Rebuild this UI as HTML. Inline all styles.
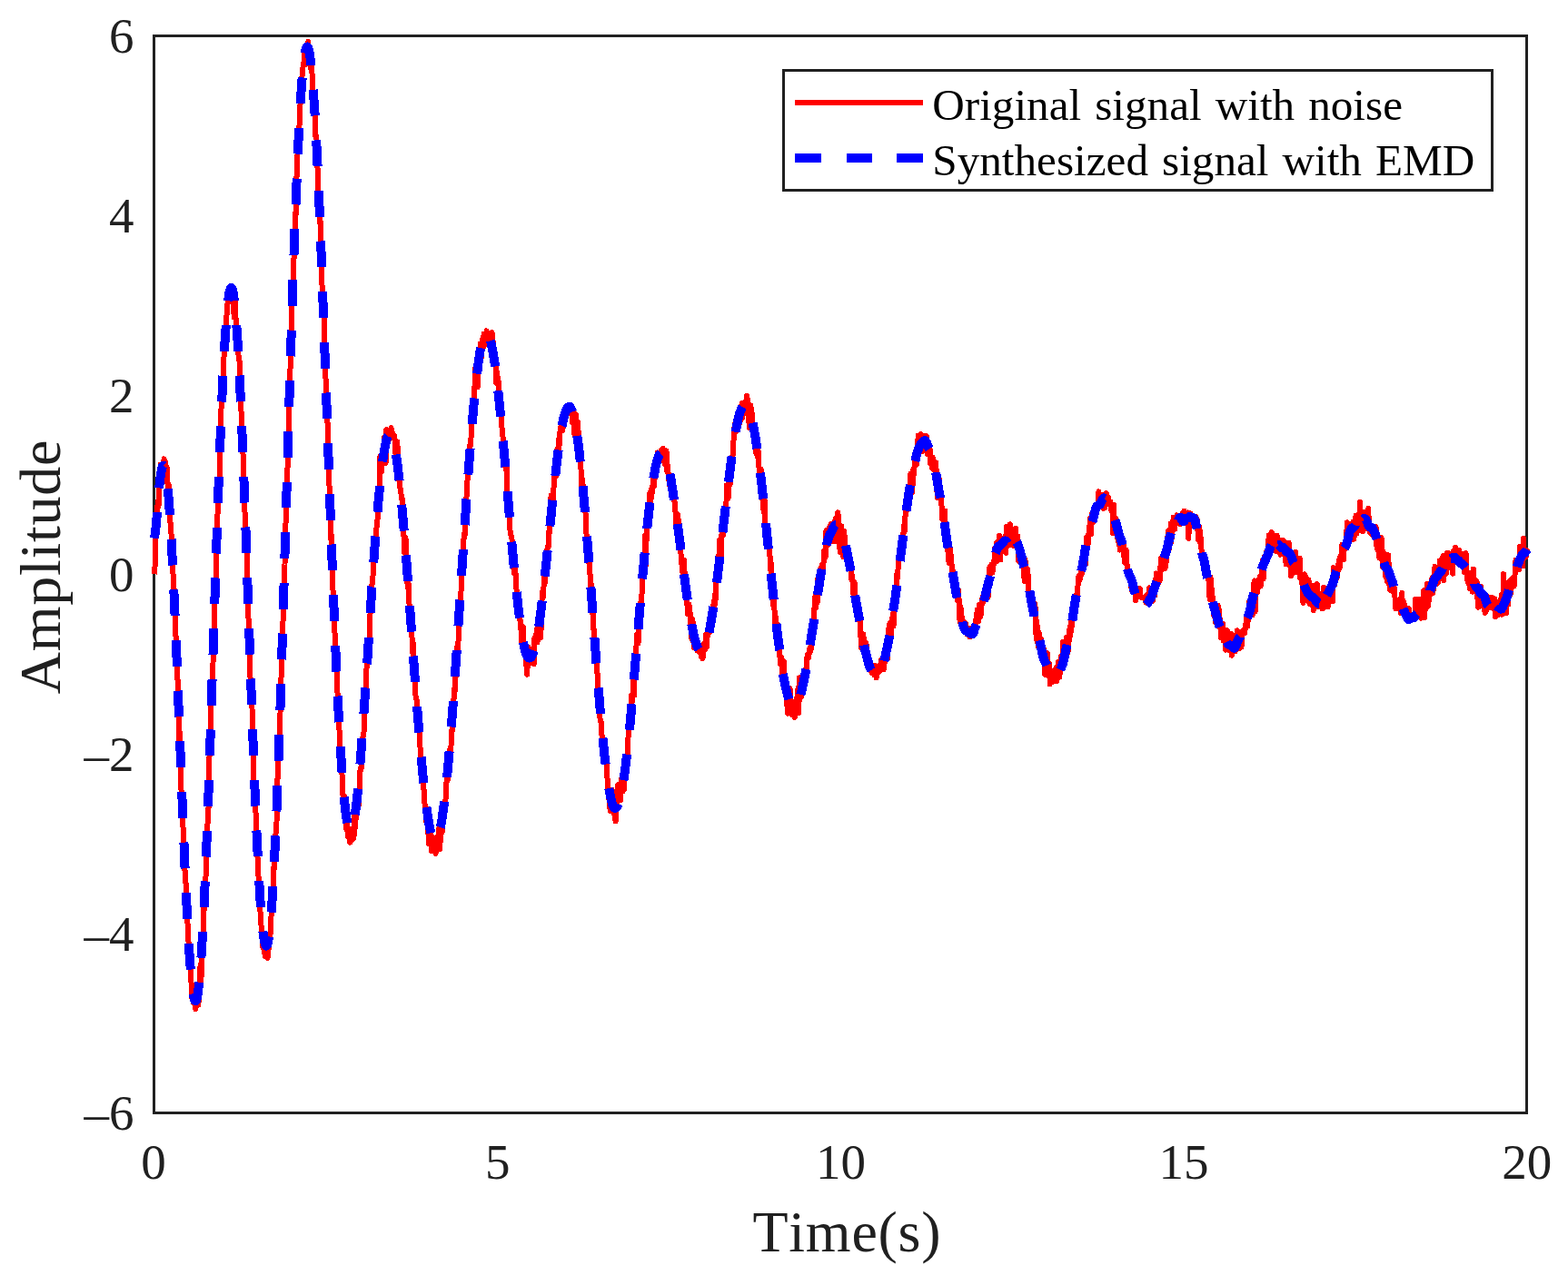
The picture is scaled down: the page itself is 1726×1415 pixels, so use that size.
<!DOCTYPE html>
<html lang="en"><head><meta charset="utf-8"><title>Original signal with noise vs. synthesized signal with EMD</title>
<style>
html,body{margin:0;padding:0;background:#fff;}
body{width:1726px;height:1415px;overflow:hidden;}
svg{display:block;}
text{font-family:"Liberation Serif", "DejaVu Serif", serif;fill:#202020;font-kerning:none;font-variant-ligatures:none;}
.tick{font-size:55px;}
.lab{font-size:64px;letter-spacing:0.75px;}
.leg{font-size:49.2px;fill:#000;word-spacing:2.7px;}
</style></head><body>
<svg width="1726" height="1415" viewBox="0 0 1726 1415">
<rect x="0" y="0" width="1726" height="1415" fill="#fff"/>
<rect x="169.5" y="39.5" width="1511" height="1186" fill="none" stroke="#202020" stroke-width="3" shape-rendering="crispEdges"/>
<path d="M170.0,632.4L170.8,619.2L171.5,580.3L172.3,576.6L173.0,564.2L173.8,551.7L174.5,557.9L175.3,534.0L176.0,532.2L176.8,511.5L177.6,511.9L178.3,513.4L179.1,510.6L179.8,513.1L180.6,505.3L181.3,512.9L182.1,508.5L182.8,519.1L183.6,514.4L184.4,531.5L185.1,537.7L185.9,533.9L186.6,553.2L187.4,574.0L188.1,584.0L188.9,591.5L189.6,594.1L190.4,628.9L191.1,645.2L191.9,651.6L192.7,685.9L193.4,699.2L194.2,708.0L194.9,730.1L195.7,754.1L196.4,769.1L197.2,819.7L197.9,806.5L198.7,844.0L199.5,870.2L200.2,873.2L201.0,889.1L201.7,918.3L202.5,942.6L203.2,951.2L204.0,969.4L204.7,973.6L205.5,995.3L206.3,1015.3L207.0,1021.5L207.8,1046.1L208.5,1064.5L209.3,1062.3L210.0,1072.1L210.8,1087.6L211.5,1099.8L212.3,1097.0L213.1,1104.8L213.8,1100.8L214.6,1104.3L215.3,1111.0L216.1,1107.4L216.8,1106.9L217.6,1095.1L218.3,1106.7L219.1,1097.8L219.9,1075.7L220.6,1062.5L221.4,1080.7L222.1,1054.4L222.9,1034.1L223.6,1027.9L224.4,993.3L225.1,1000.9L225.9,969.9L226.7,963.6L227.4,922.9L228.2,915.0L228.9,897.1L229.7,887.2L230.4,835.4L231.2,820.7L231.9,797.5L232.7,770.7L233.4,753.8L234.2,738.5L235.0,715.9L235.7,692.0L236.5,649.2L237.2,650.2L238.0,619.3L238.7,593.9L239.5,566.6L240.2,541.5L241.0,536.0L241.8,519.4L242.5,484.5L243.3,454.8L244.0,440.6L244.8,428.0L245.5,416.5L246.3,396.1L247.0,386.9L247.8,364.9L248.6,367.5L249.3,349.2L250.1,342.5L250.8,329.3L251.6,325.9L252.3,321.6L253.1,321.6L253.8,321.6L254.6,315.4L255.4,321.3L256.1,326.0L256.9,319.8L257.6,349.3L258.4,325.7L259.1,334.4L259.9,364.1L260.6,371.6L261.4,381.6L262.2,387.0L262.9,395.6L263.7,398.3L264.4,433.7L265.2,442.2L265.9,465.3L266.7,469.9L267.4,498.1L268.2,512.7L269.0,554.5L269.7,567.9L270.5,594.9L271.2,596.7L272.0,626.2L272.7,657.0L273.5,680.8L274.2,695.1L275.0,727.9L275.7,752.3L276.5,762.1L277.3,766.7L278.0,811.6L278.8,835.3L279.5,861.0L280.3,882.2L281.0,885.1L281.8,900.6L282.5,925.4L283.3,939.2L284.1,956.7L284.8,971.1L285.6,999.1L286.3,1002.3L287.1,1008.5L287.8,1026.3L288.6,1032.4L289.3,1042.9L290.1,1044.8L290.9,1039.3L291.6,1053.1L292.4,1053.2L293.1,1045.7L293.9,1046.5L294.6,1054.8L295.4,1048.6L296.1,1033.9L296.9,1039.2L297.7,1026.1L298.4,1010.8L299.2,998.3L299.9,986.9L300.7,981.6L301.4,954.7L302.2,955.7L302.9,937.9L303.7,912.0L304.5,905.0L305.2,861.6L306.0,850.9L306.7,819.3L307.5,816.0L308.2,796.0L309.0,767.4L309.7,738.1L310.5,724.6L311.3,690.8L312.0,668.4L312.8,628.1L313.5,621.5L314.3,580.1L315.0,568.2L315.8,544.3L316.5,515.5L317.3,493.2L318.0,455.4L318.8,421.7L319.6,403.7L320.3,374.5L321.1,341.1L321.8,328.9L322.6,306.1L323.3,287.4L324.1,277.0L324.8,235.3L325.6,236.8L326.4,196.5L327.1,183.9L327.9,156.6L328.6,150.7L329.4,142.0L330.1,117.7L330.9,112.8L331.6,97.8L332.4,85.4L333.2,77.7L333.9,70.2L334.7,69.1L335.4,58.2L336.2,71.0L336.9,51.0L337.7,58.6L338.4,52.1L339.2,45.9L340.0,68.4L340.7,53.8L341.5,61.0L342.2,75.1L343.0,68.7L343.7,85.7L344.5,106.7L345.2,104.3L346.0,115.0L346.8,125.6L347.5,151.0L348.3,149.6L349.0,164.1L349.8,196.9L350.5,209.9L351.3,222.7L352.0,245.6L352.8,244.7L353.6,277.8L354.3,308.7L355.1,327.5L355.8,342.3L356.6,343.3L357.3,386.6L358.1,405.9L358.8,424.6L359.6,451.6L360.3,453.6L361.1,500.3L361.9,511.3L362.6,538.3L363.4,556.1L364.1,593.2L364.9,588.8L365.6,626.1L366.4,645.2L367.1,673.7L367.9,691.4L368.7,699.1L369.4,713.8L370.2,733.6L370.9,746.7L371.7,767.4L372.4,789.1L373.2,797.0L373.9,813.2L374.7,832.6L375.5,837.9L376.2,844.7L377.0,864.6L377.7,879.6L378.5,879.3L379.2,877.1L380.0,902.6L380.7,907.9L381.5,913.6L382.3,906.2L383.0,921.5L383.8,919.8L384.5,914.4L385.3,927.7L386.0,912.7L386.8,920.1L387.5,925.2L388.3,918.9L389.1,923.5L389.8,918.3L390.6,892.8L391.3,911.0L392.1,881.1L392.8,891.1L393.6,874.4L394.3,874.7L395.1,886.1L395.8,862.5L396.6,846.4L397.4,848.1L398.1,839.5L398.9,813.8L399.6,811.6L400.4,809.3L401.1,788.9L401.9,763.7L402.6,763.3L403.4,738.8L404.2,721.4L404.9,722.1L405.7,719.8L406.4,709.0L407.2,685.6L407.9,665.5L408.7,658.7L409.4,644.3L410.2,641.1L411.0,623.1L411.7,618.5L412.5,606.1L413.2,603.8L414.0,595.8L414.7,576.3L415.5,572.0L416.2,561.5L417.0,538.4L417.8,536.8L418.5,502.6L419.3,512.5L420.0,519.1L420.8,500.4L421.5,498.1L422.3,501.9L423.0,481.5L423.8,493.6L424.6,509.7L425.3,473.1L426.1,482.9L426.8,477.3L427.6,479.8L428.3,483.6L429.1,477.3L429.8,482.8L430.6,471.1L431.4,477.3L432.1,476.8L432.9,481.1L433.6,482.7L434.4,479.9L435.1,498.4L435.9,490.8L436.6,496.3L437.4,486.7L438.1,516.0L438.9,527.6L439.7,520.3L440.4,537.6L441.2,539.4L441.9,548.9L442.7,548.5L443.4,573.2L444.2,577.4L444.9,608.2L445.7,603.5L446.5,592.3L447.2,621.7L448.0,632.3L448.7,647.2L449.5,642.2L450.2,656.5L451.0,679.2L451.7,674.0L452.5,688.5L453.3,695.1L454.0,718.2L454.8,708.5L455.5,730.9L456.3,746.3L457.0,760.5L457.8,768.7L458.5,769.5L459.3,789.5L460.1,787.9L460.8,802.1L461.6,805.0L462.3,819.0L463.1,835.8L463.8,860.6L464.6,850.0L465.3,853.9L466.1,867.2L466.9,871.2L467.6,887.3L468.4,893.2L469.1,904.4L469.9,890.3L470.6,906.3L471.4,917.0L472.1,928.9L472.9,922.9L473.7,912.7L474.4,924.5L475.2,937.5L475.9,921.1L476.7,922.9L477.4,928.1L478.2,930.6L478.9,927.8L479.7,939.8L480.4,930.2L481.2,935.7L482.0,921.1L482.7,930.0L483.5,911.7L484.2,935.0L485.0,916.4L485.7,909.8L486.5,916.8L487.2,904.8L488.0,896.7L488.8,892.2L489.5,895.5L490.3,885.2L491.0,867.9L491.8,858.0L492.5,860.2L493.3,852.0L494.0,842.2L494.8,825.8L495.6,834.6L496.3,827.2L497.1,804.5L497.8,804.9L498.6,789.9L499.3,773.2L500.1,758.7L500.8,761.0L501.6,733.3L502.4,744.2L503.1,712.3L503.9,719.0L504.6,704.4L505.4,675.8L506.1,672.9L506.9,664.2L507.6,649.1L508.4,629.1L509.2,621.6L509.9,609.4L510.7,588.1L511.4,591.7L512.2,577.9L512.9,566.8L513.7,540.7L514.4,531.0L515.2,517.5L516.0,518.2L516.7,508.7L517.5,489.7L518.2,490.6L519.0,470.2L519.7,461.8L520.5,465.1L521.2,451.0L522.0,443.0L522.7,418.9L523.5,403.9L524.3,420.2L525.0,412.4L525.8,426.0L526.5,398.5L527.3,394.9L528.0,399.2L528.8,378.5L529.5,394.9L530.3,379.6L531.1,373.4L531.8,382.9L532.6,367.8L533.3,369.8L534.1,379.2L534.8,378.7L535.6,364.3L536.3,366.9L537.1,377.9L537.9,371.2L538.6,371.2L539.4,373.7L540.1,367.8L540.9,374.7L541.6,366.2L542.4,373.5L543.1,383.8L543.9,385.0L544.7,388.0L545.4,398.8L546.2,421.4L546.9,409.4L547.7,422.7L548.4,416.0L549.2,436.3L549.9,439.8L550.7,449.1L551.5,445.2L552.2,466.2L553.0,478.3L553.7,481.7L554.5,496.7L555.2,500.1L556.0,510.3L556.7,516.7L557.5,511.3L558.2,540.5L559.0,545.6L559.8,556.6L560.5,557.9L561.3,582.9L562.0,587.4L562.8,590.4L563.5,593.9L564.3,607.5L565.0,619.8L565.8,631.1L566.6,627.0L567.3,626.6L568.1,643.8L568.8,652.1L569.6,656.9L570.3,675.6L571.1,676.4L571.8,682.0L572.6,682.8L573.4,691.0L574.1,706.3L574.9,690.6L575.6,689.9L576.4,710.7L577.1,708.4L577.9,712.6L578.6,710.7L579.4,732.6L580.2,742.6L580.9,726.9L581.7,712.8L582.4,723.6L583.2,727.8L583.9,725.3L584.7,715.5L585.4,729.7L586.2,723.9L587.0,722.8L587.7,731.2L588.5,702.3L589.2,705.4L590.0,707.2L590.7,693.0L591.5,707.3L592.2,695.1L593.0,674.6L593.8,676.0L594.5,698.4L595.3,702.3L596.0,676.4L596.8,652.0L597.5,658.9L598.3,650.0L599.0,636.0L599.8,642.1L600.5,625.4L601.3,613.1L602.1,608.6L602.8,601.8L603.6,603.0L604.3,585.8L605.1,586.5L605.8,563.9L606.6,545.4L607.3,566.8L608.1,571.9L608.9,549.4L609.6,535.3L610.4,522.4L611.1,515.3L611.9,524.9L612.6,518.5L613.4,494.3L614.1,508.8L614.9,484.1L615.7,490.1L616.4,476.3L617.2,471.9L617.9,466.8L618.7,462.2L619.4,474.1L620.2,459.4L620.9,458.8L621.7,453.5L622.5,450.4L623.2,454.3L624.0,456.6L624.7,455.7L625.5,451.4L626.2,451.1L627.0,446.2L627.7,452.4L628.5,447.9L629.3,454.0L630.0,465.6L630.8,454.3L631.5,453.4L632.3,478.1L633.0,456.1L633.8,456.4L634.5,472.4L635.3,476.1L636.1,464.9L636.8,481.0L637.6,505.7L638.3,504.7L639.1,512.9L639.8,520.1L640.6,547.0L641.3,527.8L642.1,548.2L642.8,549.7L643.6,561.1L644.4,561.4L645.1,580.8L645.9,594.6L646.6,592.7L647.4,594.9L648.1,619.8L648.9,615.1L649.6,634.9L650.4,652.0L651.2,644.4L651.9,675.1L652.7,669.4L653.4,692.8L654.2,694.8L654.9,719.6L655.7,726.2L656.4,719.6L657.2,737.1L658.0,748.1L658.7,761.7L659.5,763.3L660.2,788.5L661.0,794.9L661.7,795.1L662.5,809.4L663.2,816.2L664.0,818.5L664.8,826.5L665.5,834.3L666.3,824.5L667.0,836.6L667.8,840.6L668.5,857.1L669.3,866.4L670.0,879.4L670.8,874.1L671.6,893.0L672.3,883.4L673.1,874.7L673.8,869.7L674.6,877.5L675.3,895.0L676.1,884.4L676.8,896.2L677.6,904.5L678.4,890.3L679.1,881.2L679.9,865.1L680.6,877.9L681.4,863.6L682.1,879.8L682.9,881.3L683.6,863.4L684.4,856.3L685.1,871.9L685.9,861.8L686.7,870.0L687.4,853.9L688.2,838.7L688.9,841.1L689.7,838.9L690.4,839.5L691.2,817.1L691.9,806.1L692.7,800.3L693.5,795.5L694.2,800.8L695.0,766.2L695.7,773.6L696.5,765.8L697.2,749.4L698.0,765.8L698.7,738.6L699.5,730.2L700.3,716.6L701.0,699.0L701.8,697.5L702.5,708.3L703.3,686.2L704.0,672.3L704.8,663.8L705.5,667.2L706.3,661.7L707.1,633.7L707.8,626.8L708.6,621.5L709.3,628.0L710.1,589.5L710.8,622.2L711.6,592.5L712.3,563.7L713.1,576.0L713.9,565.7L714.6,571.3L715.4,542.9L716.1,559.8L716.9,540.6L717.6,536.2L718.4,541.5L719.1,519.9L719.9,535.5L720.7,525.0L721.4,515.7L722.2,515.7L722.9,505.1L723.7,498.5L724.4,506.9L725.2,507.2L725.9,505.5L726.7,503.1L727.4,497.0L728.2,500.7L729.0,495.3L729.7,493.7L730.5,507.3L731.2,496.2L732.0,511.5L732.7,504.2L733.5,496.3L734.2,518.2L735.0,512.0L735.8,528.3L736.5,522.3L737.3,534.4L738.0,528.4L738.8,534.1L739.5,532.6L740.3,524.5L741.0,540.6L741.8,542.3L742.6,553.6L743.3,560.6L744.1,571.2L744.8,585.1L745.6,574.5L746.3,566.7L747.1,582.6L747.8,597.3L748.6,584.2L749.4,608.3L750.1,615.9L750.9,627.0L751.6,630.7L752.4,630.3L753.1,616.6L753.9,641.5L754.6,654.3L755.4,656.1L756.2,658.2L756.9,676.3L757.7,665.4L758.4,665.3L759.2,673.4L759.9,675.4L760.7,696.2L761.4,703.8L762.2,681.7L762.9,686.9L763.7,713.2L764.5,701.1L765.2,705.4L766.0,703.4L766.7,708.5L767.5,716.6L768.2,712.2L769.0,713.8L769.7,716.6L770.5,719.0L771.3,719.0L772.0,723.5L772.8,719.3L773.5,725.2L774.3,709.1L775.0,711.8L775.8,715.8L776.5,710.1L777.3,698.4L778.1,712.4L778.8,695.3L779.6,694.1L780.3,694.6L781.1,680.7L781.8,695.7L782.6,677.1L783.3,689.0L784.1,682.9L784.9,680.6L785.6,662.5L786.4,669.2L787.1,655.2L787.9,659.8L788.6,634.9L789.4,622.2L790.1,630.1L790.9,611.6L791.7,614.6L792.4,594.2L793.2,605.7L793.9,613.7L794.7,580.5L795.4,587.9L796.2,589.1L796.9,579.2L797.7,581.0L798.5,561.7L799.2,563.0L800.0,534.3L800.7,535.0L801.5,548.9L802.2,541.4L803.0,527.1L803.7,533.0L804.5,511.4L805.2,505.2L806.0,506.1L806.8,498.9L807.5,484.8L808.3,472.0L809.0,466.8L809.8,475.2L810.5,463.9L811.3,474.0L812.0,460.5L812.8,469.2L813.6,451.5L814.3,466.0L815.1,461.2L815.8,450.9L816.6,444.3L817.3,460.2L818.1,451.3L818.8,444.7L819.6,443.5L820.4,452.7L821.1,444.8L821.9,435.6L822.6,438.4L823.4,443.5L824.1,461.5L824.9,471.0L825.6,453.2L826.4,446.3L827.2,457.9L827.9,454.9L828.7,470.2L829.4,481.6L830.2,467.3L830.9,477.3L831.7,476.8L832.4,499.6L833.2,491.1L834.0,503.4L834.7,496.5L835.5,514.4L836.2,520.6L837.0,526.6L837.7,516.9L838.5,534.2L839.2,547.7L840.0,556.8L840.8,564.0L841.5,549.3L842.3,584.9L843.0,583.8L843.8,578.2L844.5,580.9L845.3,599.8L846.0,599.1L846.8,606.8L847.5,612.3L848.3,627.9L849.1,621.2L849.8,641.1L850.6,636.7L851.3,666.8L852.1,656.1L852.8,682.2L853.6,691.1L854.3,680.4L855.1,698.5L855.9,693.8L856.6,713.2L857.4,695.9L858.1,715.6L858.9,731.1L859.6,725.1L860.4,724.1L861.1,743.4L861.9,736.9L862.7,728.0L863.4,742.4L864.2,753.9L864.9,762.4L865.7,755.8L866.4,777.0L867.2,785.6L867.9,774.9L868.7,780.7L869.5,758.0L870.2,773.5L871.0,784.6L871.7,787.1L872.5,773.3L873.2,785.3L874.0,783.2L874.7,789.9L875.5,776.7L876.3,775.8L877.0,774.6L877.8,763.0L878.5,757.9L879.3,785.2L880.0,746.3L880.8,765.2L881.5,752.9L882.3,767.3L883.1,755.0L883.8,752.7L884.6,750.1L885.3,740.0L886.1,738.0L886.8,748.3L887.6,736.4L888.3,724.7L889.1,720.6L889.8,724.9L890.6,719.7L891.4,713.8L892.1,717.2L892.9,713.8L893.6,683.9L894.4,696.0L895.1,686.6L895.9,688.8L896.6,665.9L897.4,656.9L898.2,669.0L898.9,657.5L899.7,663.6L900.4,636.7L901.2,639.2L901.9,649.7L902.7,626.9L903.4,630.1L904.2,625.2L905.0,621.3L905.7,626.1L906.5,620.9L907.2,607.0L908.0,609.1L908.7,613.4L909.5,584.2L910.2,600.6L911.0,600.7L911.8,599.2L912.5,584.6L913.3,579.9L914.0,584.2L914.8,576.9L915.5,595.9L916.3,584.8L917.0,584.5L917.8,579.5L918.6,574.7L919.3,596.3L920.1,570.4L920.8,586.0L921.6,575.9L922.3,564.2L923.1,572.9L923.8,579.3L924.6,608.0L925.4,593.7L926.1,579.4L926.9,596.0L927.6,599.4L928.4,613.1L929.1,584.6L929.9,593.6L930.6,608.7L931.4,605.3L932.1,608.3L932.9,620.5L933.7,616.8L934.4,615.8L935.2,617.0L935.9,614.7L936.7,629.5L937.4,637.9L938.2,634.5L938.9,647.7L939.7,657.4L940.5,641.0L941.2,658.6L942.0,658.6L942.7,658.4L943.5,678.1L944.2,667.3L945.0,673.3L945.7,682.3L946.5,682.3L947.3,696.5L948.0,713.2L948.8,700.5L949.5,709.9L950.3,698.2L951.0,707.1L951.8,717.6L952.5,716.0L953.3,707.9L954.1,712.9L954.8,722.5L955.6,724.7L956.3,733.4L957.1,734.5L957.8,730.4L958.6,738.5L959.3,736.6L960.1,741.4L960.9,740.1L961.6,740.1L962.4,743.1L963.1,732.9L963.9,734.4L964.6,746.3L965.4,740.1L966.1,737.2L966.9,739.4L967.6,740.1L968.4,732.1L969.2,738.3L969.9,726.7L970.7,733.3L971.4,726.3L972.2,728.8L972.9,737.3L973.7,728.1L974.4,728.9L975.2,712.4L976.0,724.8L976.7,725.7L977.5,702.5L978.2,694.3L979.0,687.4L979.7,685.9L980.5,703.9L981.2,692.0L982.0,685.7L982.8,676.1L983.5,689.4L984.3,665.4L985.0,657.4L985.8,662.6L986.5,647.7L987.3,632.6L988.0,636.8L988.8,622.3L989.6,616.8L990.3,616.2L991.1,610.6L991.8,611.3L992.6,591.5L993.3,600.6L994.1,596.8L994.8,578.9L995.6,585.7L996.4,570.1L997.1,559.1L997.9,562.3L998.6,556.8L999.4,544.6L1000.1,541.0L1000.9,556.1L1001.6,549.4L1002.4,521.8L1003.2,525.6L1003.9,542.9L1004.7,532.5L1005.4,516.7L1006.2,521.8L1006.9,505.7L1007.7,505.9L1008.4,499.3L1009.2,511.0L1009.9,492.9L1010.7,479.7L1011.5,500.8L1012.2,480.7L1013.0,482.0L1013.7,477.9L1014.5,488.7L1015.2,497.5L1016.0,494.4L1016.7,479.9L1017.5,480.2L1018.3,481.4L1019.0,479.7L1019.8,480.0L1020.5,492.6L1021.3,500.5L1022.0,489.7L1022.8,488.8L1023.5,494.3L1024.3,510.4L1025.1,504.0L1025.8,514.9L1026.6,503.5L1027.3,516.9L1028.1,512.3L1028.8,511.4L1029.6,516.5L1030.3,509.5L1031.1,534.8L1031.9,548.1L1032.6,525.0L1033.4,525.3L1034.1,529.4L1034.9,543.8L1035.6,546.1L1036.4,554.3L1037.1,571.3L1037.9,569.7L1038.7,565.2L1039.4,579.4L1040.2,562.6L1040.9,597.4L1041.7,592.7L1042.4,584.1L1043.2,603.9L1043.9,613.3L1044.7,620.1L1045.5,619.4L1046.2,604.6L1047.0,618.9L1047.7,622.5L1048.5,636.1L1049.2,628.7L1050.0,639.4L1050.7,652.6L1051.5,652.7L1052.2,651.1L1053.0,646.6L1053.8,661.1L1054.5,659.9L1055.3,650.1L1056.0,678.0L1056.8,685.0L1057.5,668.7L1058.3,676.3L1059.0,683.6L1059.8,682.9L1060.6,690.3L1061.3,685.0L1062.1,694.2L1062.8,686.0L1063.6,697.2L1064.3,698.3L1065.1,695.5L1065.8,699.1L1066.6,691.8L1067.4,701.4L1068.1,698.1L1068.9,696.2L1069.6,698.5L1070.4,695.2L1071.1,696.2L1071.9,698.6L1072.6,698.0L1073.4,691.6L1074.2,682.8L1074.9,684.1L1075.7,671.5L1076.4,673.7L1077.2,684.2L1077.9,665.8L1078.7,667.4L1079.4,679.0L1080.2,669.6L1081.0,660.0L1081.7,664.6L1082.5,655.0L1083.2,657.5L1084.0,651.8L1084.7,657.6L1085.5,648.5L1086.2,651.8L1087.0,639.6L1087.8,657.0L1088.5,636.2L1089.3,625.0L1090.0,627.7L1090.8,629.8L1091.5,621.8L1092.3,630.8L1093.0,627.6L1093.8,620.5L1094.5,615.8L1095.3,603.3L1096.1,616.8L1096.8,597.7L1097.6,618.0L1098.3,609.4L1099.1,601.5L1099.8,589.9L1100.6,604.2L1101.3,616.5L1102.1,593.4L1102.9,596.6L1103.6,605.4L1104.4,604.8L1105.1,601.7L1105.9,594.8L1106.6,590.1L1107.4,609.0L1108.1,580.1L1108.9,597.5L1109.7,601.1L1110.4,592.5L1111.2,597.4L1111.9,577.3L1112.7,587.7L1113.4,599.9L1114.2,599.8L1114.9,600.5L1115.7,598.9L1116.5,589.9L1117.2,601.3L1118.0,581.9L1118.7,597.2L1119.5,598.7L1120.2,590.5L1121.0,617.6L1121.7,610.3L1122.5,599.0L1123.3,606.2L1124.0,608.8L1124.8,607.8L1125.5,619.3L1126.3,618.5L1127.0,632.1L1127.8,640.0L1128.5,616.2L1129.3,638.8L1130.0,640.6L1130.8,626.0L1131.6,632.7L1132.3,650.3L1133.1,654.2L1133.8,654.2L1134.6,665.7L1135.3,656.6L1136.1,664.1L1136.8,668.1L1137.6,666.6L1138.4,670.8L1139.1,664.9L1139.9,671.6L1140.6,703.4L1141.4,684.4L1142.1,705.6L1142.9,711.8L1143.6,696.7L1144.4,712.4L1145.2,712.3L1145.9,703.5L1146.7,721.6L1147.4,726.6L1148.2,718.9L1148.9,713.8L1149.7,722.4L1150.4,743.0L1151.2,737.4L1152.0,735.2L1152.7,719.0L1153.5,729.8L1154.2,731.8L1155.0,730.2L1155.7,753.4L1156.5,738.7L1157.2,739.5L1158.0,751.3L1158.8,745.0L1159.5,740.2L1160.3,750.3L1161.0,738.0L1161.8,738.1L1162.5,735.2L1163.3,750.2L1164.0,741.7L1164.8,728.9L1165.6,733.3L1166.3,745.6L1167.1,735.2L1167.8,723.0L1168.6,734.0L1169.3,727.8L1170.1,706.5L1170.8,726.6L1171.6,724.6L1172.3,729.5L1173.1,723.6L1173.9,701.8L1174.6,712.7L1175.4,718.4L1176.1,712.7L1176.9,700.9L1177.6,690.5L1178.4,699.8L1179.1,683.2L1179.9,689.7L1180.7,678.3L1181.4,672.8L1182.2,667.8L1182.9,672.6L1183.7,666.1L1184.4,656.0L1185.2,667.3L1185.9,650.3L1186.7,643.0L1187.5,634.1L1188.2,639.3L1189.0,636.3L1189.7,629.3L1190.5,632.7L1191.2,624.1L1192.0,614.6L1192.7,611.7L1193.5,619.4L1194.3,609.3L1195.0,621.1L1195.8,592.1L1196.5,600.1L1197.3,589.9L1198.0,598.2L1198.8,586.1L1199.5,578.3L1200.3,570.6L1201.1,588.0L1201.8,566.0L1202.6,572.1L1203.3,574.9L1204.1,561.6L1204.8,566.1L1205.6,564.1L1206.3,565.7L1207.1,555.9L1207.9,556.0L1208.6,556.4L1209.4,541.4L1210.1,557.1L1210.9,548.3L1211.6,544.6L1212.4,550.9L1213.1,545.7L1213.9,550.4L1214.6,559.8L1215.4,545.0L1216.2,559.2L1216.9,547.8L1217.7,543.0L1218.4,555.4L1219.2,554.4L1219.9,547.6L1220.7,553.9L1221.4,555.0L1222.2,552.1L1223.0,561.3L1223.7,563.0L1224.5,560.9L1225.2,587.0L1226.0,556.1L1226.7,580.0L1227.5,582.5L1228.2,570.9L1229.0,578.0L1229.8,591.8L1230.5,581.9L1231.3,596.5L1232.0,595.6L1232.8,605.6L1233.5,602.7L1234.3,595.1L1235.0,600.6L1235.8,602.0L1236.6,599.8L1237.3,611.3L1238.1,619.7L1238.8,619.4L1239.6,605.7L1240.3,622.7L1241.1,623.1L1241.8,629.5L1242.6,629.3L1243.4,630.4L1244.1,636.8L1244.9,640.6L1245.6,648.5L1246.4,651.4L1247.1,642.8L1247.9,642.0L1248.6,642.5L1249.4,652.0L1250.2,661.5L1250.9,650.5L1251.7,652.2L1252.4,657.5L1253.2,653.4L1253.9,656.4L1254.7,648.1L1255.4,657.5L1256.2,657.5L1256.9,657.8L1257.7,657.5L1258.5,657.5L1259.2,657.5L1260.0,657.5L1260.7,657.5L1261.5,663.7L1262.2,655.4L1263.0,659.3L1263.7,658.3L1264.5,661.0L1265.3,647.3L1266.0,653.9L1266.8,647.9L1267.5,658.3L1268.3,650.6L1269.0,661.7L1269.8,646.8L1270.5,646.1L1271.3,655.5L1272.1,642.1L1272.8,631.4L1273.6,634.8L1274.3,631.8L1275.1,642.0L1275.8,638.1L1276.6,639.4L1277.3,626.1L1278.1,614.4L1278.9,618.4L1279.6,619.6L1280.4,626.7L1281.1,610.6L1281.9,614.0L1282.6,625.8L1283.4,621.8L1284.1,607.2L1284.9,609.6L1285.7,585.1L1286.4,596.7L1287.2,603.7L1287.9,596.6L1288.7,576.4L1289.4,596.3L1290.2,579.5L1290.9,580.5L1291.7,569.8L1292.5,576.3L1293.2,582.9L1294.0,573.5L1294.7,576.2L1295.5,567.2L1296.2,575.2L1297.0,568.6L1297.7,573.8L1298.5,568.5L1299.2,577.5L1300.0,570.4L1300.8,571.2L1301.5,570.0L1302.3,564.2L1303.0,576.4L1303.8,562.6L1304.5,565.5L1305.3,573.5L1306.0,576.5L1306.8,566.2L1307.6,564.4L1308.3,592.9L1309.1,572.9L1309.8,565.0L1310.6,565.5L1311.3,573.2L1312.1,568.8L1312.8,576.2L1313.6,572.1L1314.4,570.3L1315.1,573.4L1315.9,568.8L1316.6,569.7L1317.4,582.1L1318.1,573.0L1318.9,594.5L1319.6,593.9L1320.4,580.5L1321.2,597.7L1321.9,592.5L1322.7,608.8L1323.4,610.6L1324.2,612.6L1324.9,613.6L1325.7,621.4L1326.4,621.8L1327.2,619.7L1328.0,618.5L1328.7,631.5L1329.5,630.3L1330.2,631.5L1331.0,652.2L1331.7,659.9L1332.5,635.8L1333.2,641.7L1334.0,656.0L1334.7,656.7L1335.5,671.1L1336.3,678.1L1337.0,666.5L1337.8,685.1L1338.5,667.2L1339.3,683.8L1340.0,678.2L1340.8,666.6L1341.5,669.5L1342.3,690.6L1343.1,681.4L1343.8,701.7L1344.6,700.0L1345.3,693.7L1346.1,686.7L1346.8,705.4L1347.6,697.3L1348.3,702.6L1349.1,715.7L1349.9,707.2L1350.6,694.1L1351.4,708.8L1352.1,704.5L1352.9,702.3L1353.6,716.4L1354.4,699.7L1355.1,697.6L1355.9,721.6L1356.7,699.4L1357.4,714.7L1358.2,715.4L1358.9,716.7L1359.7,717.2L1360.4,715.6L1361.2,699.3L1361.9,694.2L1362.7,711.4L1363.5,697.6L1364.2,714.3L1365.0,704.7L1365.7,708.9L1366.5,712.7L1367.2,696.4L1368.0,694.3L1368.7,696.5L1369.5,695.4L1370.3,697.3L1371.0,687.7L1371.8,689.4L1372.5,679.7L1373.3,689.8L1374.0,674.9L1374.8,669.9L1375.5,661.0L1376.3,660.2L1377.0,665.1L1377.8,670.1L1378.6,677.5L1379.3,659.1L1380.1,644.2L1380.8,639.5L1381.6,673.4L1382.3,655.4L1383.1,649.4L1383.8,652.9L1384.6,639.8L1385.4,638.6L1386.1,641.0L1386.9,634.5L1387.6,645.7L1388.4,638.0L1389.1,635.2L1389.9,617.4L1390.6,637.2L1391.4,622.9L1392.2,612.3L1392.9,617.6L1393.7,608.3L1394.4,619.2L1395.2,608.2L1395.9,602.5L1396.7,589.5L1397.4,601.3L1398.2,594.0L1399.0,605.1L1399.7,586.0L1400.5,589.6L1401.2,597.4L1402.0,589.4L1402.7,595.0L1403.5,590.6L1404.2,592.2L1405.0,607.4L1405.8,589.7L1406.5,596.2L1407.3,595.9L1408.0,601.3L1408.8,594.4L1409.5,610.8L1410.3,607.9L1411.0,608.7L1411.8,600.1L1412.6,595.2L1413.3,597.4L1414.1,601.3L1414.8,610.5L1415.6,621.4L1416.3,603.5L1417.1,606.8L1417.8,606.0L1418.6,597.8L1419.3,613.0L1420.1,614.4L1420.9,634.2L1421.6,610.6L1422.4,617.4L1423.1,624.9L1423.9,616.7L1424.6,630.7L1425.4,627.9L1426.1,607.7L1426.9,619.9L1427.7,620.0L1428.4,623.2L1429.2,625.8L1429.9,631.3L1430.7,614.8L1431.4,636.9L1432.2,631.5L1432.9,641.4L1433.7,644.2L1434.5,663.9L1435.2,661.0L1436.0,632.3L1436.7,634.3L1437.5,652.5L1438.2,650.4L1439.0,646.1L1439.7,661.3L1440.5,638.5L1441.3,664.0L1442.0,662.3L1442.8,665.8L1443.5,644.8L1444.3,658.3L1445.0,645.5L1445.8,672.0L1446.5,657.9L1447.3,660.8L1448.1,660.1L1448.8,644.2L1449.6,642.8L1450.3,651.4L1451.1,668.0L1451.8,657.5L1452.6,653.4L1453.3,659.9L1454.1,659.2L1454.9,659.4L1455.6,670.4L1456.4,659.8L1457.1,647.1L1457.9,668.7L1458.6,658.2L1459.4,650.4L1460.1,668.2L1460.9,656.1L1461.6,668.2L1462.4,657.2L1463.2,662.5L1463.9,656.3L1464.7,651.0L1465.4,647.3L1466.2,644.8L1466.9,662.0L1467.7,625.3L1468.4,639.4L1469.2,644.5L1470.0,638.3L1470.7,627.9L1471.5,637.1L1472.2,629.8L1473.0,628.1L1473.7,617.0L1474.5,626.0L1475.2,613.3L1476.0,611.9L1476.8,614.0L1477.5,599.7L1478.3,608.1L1479.0,616.4L1479.8,601.4L1480.5,600.8L1481.3,600.2L1482.0,595.8L1482.8,575.4L1483.6,591.9L1484.3,588.1L1485.1,592.4L1485.8,577.2L1486.6,587.4L1487.3,592.3L1488.1,594.5L1488.8,577.9L1489.6,574.7L1490.4,593.7L1491.1,585.1L1491.9,572.2L1492.6,567.9L1493.4,587.4L1494.1,578.7L1494.9,567.3L1495.6,578.7L1496.4,577.5L1497.1,552.9L1497.9,584.4L1498.7,572.5L1499.4,570.2L1500.2,585.1L1500.9,572.2L1501.7,563.7L1502.4,571.8L1503.2,565.8L1503.9,579.3L1504.7,563.2L1505.5,582.6L1506.2,560.1L1507.0,581.3L1507.7,584.6L1508.5,587.1L1509.2,584.1L1510.0,586.0L1510.7,589.0L1511.5,587.3L1512.3,580.1L1513.0,579.8L1513.8,592.0L1514.5,580.1L1515.3,601.3L1516.0,603.5L1516.8,606.4L1517.5,593.4L1518.3,614.2L1519.1,614.9L1519.8,593.8L1520.6,592.3L1521.3,597.7L1522.1,624.6L1522.8,613.8L1523.6,608.9L1524.3,617.6L1525.1,634.8L1525.9,626.0L1526.6,640.1L1527.4,638.4L1528.1,611.3L1528.9,626.4L1529.6,647.3L1530.4,649.8L1531.1,635.0L1531.9,646.5L1532.7,638.4L1533.4,651.2L1534.2,649.4L1534.9,647.6L1535.7,660.7L1536.4,670.5L1537.2,666.2L1537.9,663.9L1538.7,661.6L1539.4,662.2L1540.2,664.2L1541.0,660.9L1541.7,674.9L1542.5,656.7L1543.2,653.0L1544.0,668.7L1544.7,671.7L1545.5,663.7L1546.2,670.1L1547.0,675.2L1547.8,679.3L1548.5,679.4L1549.3,676.8L1550.0,683.0L1550.8,670.0L1551.5,676.8L1552.3,681.4L1553.0,678.9L1553.8,679.8L1554.6,678.2L1555.3,680.3L1556.1,676.8L1556.8,679.8L1557.6,681.3L1558.3,659.7L1559.1,669.3L1559.8,679.6L1560.6,675.8L1561.4,659.9L1562.1,659.8L1562.9,671.1L1563.6,672.7L1564.4,680.6L1565.1,672.0L1565.9,669.3L1566.6,672.9L1567.4,650.1L1568.2,680.0L1568.9,663.4L1569.7,657.1L1570.4,655.3L1571.2,642.8L1571.9,668.0L1572.7,660.7L1573.4,651.6L1574.2,649.6L1575.0,652.4L1575.7,654.0L1576.5,636.3L1577.2,653.1L1578.0,647.3L1578.7,628.1L1579.5,623.9L1580.2,629.7L1581.0,643.2L1581.7,641.6L1582.5,640.5L1583.3,641.1L1584.0,633.4L1584.8,617.4L1585.5,625.2L1586.3,632.5L1587.0,631.5L1587.8,633.8L1588.5,612.0L1589.3,639.1L1590.1,618.2L1590.8,632.2L1591.6,628.1L1592.3,631.1L1593.1,609.0L1593.8,617.5L1594.6,609.2L1595.3,624.8L1596.1,624.8L1596.9,609.8L1597.6,609.8L1598.4,616.8L1599.1,631.6L1599.9,606.6L1600.6,608.3L1601.4,609.7L1602.1,603.0L1602.9,608.3L1603.7,619.3L1604.4,614.6L1605.2,617.3L1605.9,605.5L1606.7,621.3L1607.4,621.1L1608.2,609.4L1608.9,618.1L1609.7,621.2L1610.5,624.2L1611.2,615.0L1612.0,630.1L1612.7,621.6L1613.5,609.2L1614.2,624.6L1615.0,636.1L1615.7,641.0L1616.5,630.5L1617.3,643.7L1618.0,648.1L1618.8,642.0L1619.5,646.2L1620.3,630.3L1621.0,651.7L1621.8,626.6L1622.5,648.1L1623.3,641.8L1624.0,638.2L1624.8,643.3L1625.6,640.2L1626.3,656.3L1627.1,668.7L1627.8,651.9L1628.6,666.0L1629.3,657.7L1630.1,645.7L1630.8,656.9L1631.6,661.6L1632.4,667.5L1633.1,661.4L1633.9,661.5L1634.6,674.9L1635.4,659.7L1636.1,672.6L1636.9,662.4L1637.6,669.2L1638.4,657.5L1639.2,659.5L1639.9,667.7L1640.7,669.4L1641.4,665.3L1642.2,657.6L1642.9,661.0L1643.7,669.7L1644.4,669.2L1645.2,659.1L1646.0,679.3L1646.7,669.6L1647.5,675.0L1648.2,662.9L1649.0,677.3L1649.7,674.5L1650.5,675.2L1651.2,671.7L1652.0,663.9L1652.8,655.2L1653.5,676.7L1654.3,671.3L1655.0,632.2L1655.8,656.5L1656.5,663.2L1657.3,656.8L1658.0,675.0L1658.8,643.3L1659.6,653.8L1660.3,665.4L1661.1,640.3L1661.8,653.6L1662.6,654.7L1663.3,638.7L1664.1,637.4L1664.8,642.5L1665.6,636.9L1666.3,645.8L1667.1,644.5L1667.9,622.2L1668.6,616.6L1669.4,622.5L1670.1,621.1L1670.9,626.0L1671.6,622.0L1672.4,627.2L1673.1,602.1L1673.9,620.7L1674.7,610.7L1675.4,612.7L1676.2,623.5L1676.9,593.1L1677.7,612.0L1678.4,614.2L1679.2,605.4L1679.9,613.3L1680.7,604.3" fill="none" stroke="#ff0000" stroke-width="6" stroke-linejoin="round" stroke-linecap="butt" shape-rendering="crispEdges"/>
<path d="M170.0,592.8L170.8,586.9L171.5,581.0L172.3,573.3L172.9,564.2M175.1,537.4L175.3,535.9L176.0,529.2L176.8,523.4L177.6,518.8L178.3,515.5L179.1,513.4L179.8,512.6L179.9,512.7M184.7,538.1L185.1,542.2L185.9,551.4L186.6,561.8L186.9,566.8M188.6,593.7L188.9,599.6L189.6,614.0L190.1,622.5M191.3,649.3L191.9,662.1L192.6,678.1M193.7,705.0L194.2,716.4L194.9,733.8M195.9,760.6L196.4,774.1L197.0,789.4M198.1,816.3L198.7,832.7L199.2,845.1M200.2,871.9L200.2,872.2L201.0,891.6L201.3,900.7M202.4,927.6L202.5,929.2L203.2,947.1L203.6,956.4M204.9,983.3L205.5,996.6L206.3,1011.5L206.3,1012.0M207.8,1038.9L208.5,1050.3L209.3,1061.1L209.8,1067.6M212.6,1094.3L213.1,1096.9L213.8,1100.0L214.6,1101.8L215.3,1102.2L216.1,1101.2L216.8,1098.9L217.6,1095.1L218.3,1089.9L219.1,1083.3L219.3,1081.6M221.4,1054.7L222.1,1043.4L222.9,1030.4L223.1,1026.0M224.5,999.1L225.1,985.0L225.8,970.4M226.9,943.5L227.4,930.0L228.0,914.7M229.0,887.8L229.7,867.6L230.0,859.0M230.9,832.2L231.2,822.9L231.8,803.4M232.7,776.5L232.7,776.3L233.4,752.6L233.6,747.7M234.5,720.8L235.0,705.0L235.4,692.0M236.2,665.1L236.5,657.8L237.2,636.4M238.0,609.5L238.7,588.6L239.0,580.7M239.9,553.8L240.2,544.7L240.9,525.0M241.9,498.1L242.5,483.0L243.1,469.4M244.2,442.5L244.8,428.6L245.5,413.7M246.9,386.9L247.0,384.4L247.8,372.0L248.6,360.7L248.7,358.1M251.2,331.3L251.6,327.8L252.3,323.0L253.1,319.6L253.8,317.5L254.6,316.9L255.4,317.7L256.1,320.0L256.9,323.6L257.6,328.8L257.9,331.2M260.3,357.9L260.6,362.3L261.4,373.5L262.2,386.0L262.2,386.7M263.6,413.5L263.7,414.2L264.4,430.0L265.0,442.3M266.1,469.2L266.7,482.6L267.3,498.0M268.3,524.8L269.0,542.2L269.4,553.6M270.3,580.5L270.5,584.2L271.2,605.8L271.3,609.3M272.3,636.2L272.7,649.7L273.2,665.0M274.2,691.8L274.2,694.2L275.0,716.2L275.1,720.6M276.1,747.5L276.5,759.9L277.1,776.3M278.0,803.2L278.8,823.6L279.1,832.0M280.1,858.8L280.3,863.3L281.0,882.0L281.3,887.6M282.4,914.5L282.5,916.8L283.3,933.0L283.8,943.3M285.2,970.1L285.6,976.5L286.3,988.9L287.0,998.9M289.4,1025.7L290.1,1031.2L290.9,1035.7L291.6,1039.0L292.4,1040.9L293.1,1041.6L293.9,1041.1L294.6,1039.1L295.4,1035.7L296.1,1031.4M298.6,1004.7L299.2,997.5L299.9,985.9L300.5,975.9M301.9,949.1L302.2,944.0L302.9,927.7L303.3,920.3M304.4,893.4L304.5,892.2L305.2,872.9L305.5,864.7M306.5,837.8L306.7,831.2L307.5,809.1L307.5,809.0M308.4,782.1L309.0,762.4L309.3,753.3M310.1,726.4L310.5,713.5L311.0,697.6M311.8,670.8L312.0,662.7L312.6,642.0M313.4,615.1L313.5,610.5L314.2,586.3M315.0,559.4L315.0,557.9L315.8,531.8L315.8,530.6M316.6,503.7L317.3,480.0L317.4,474.9M318.2,448.0L318.8,428.7L319.1,419.3M319.9,392.4L320.3,378.3L320.8,363.6M321.6,336.7L321.8,329.8L322.5,307.9M323.5,281.0L324.1,263.1L324.5,252.2M325.5,225.4L325.6,222.7L326.4,203.9L326.7,196.6M327.8,169.7L327.9,168.8L328.6,152.7L329.2,140.9M330.7,114.1L330.9,111.0L331.6,99.3L332.4,89.0L332.7,85.4M335.7,58.6L336.2,55.8L336.9,53.0L337.7,51.6L338.4,51.5L339.2,52.8L340.0,55.2L340.7,58.9L341.5,63.8L342.2,69.8L342.4,71.9M344.8,98.7L345.2,105.2L346.0,116.6L346.7,127.4M348.1,154.3L348.3,156.4L349.0,171.5L349.6,183.0M350.8,209.9L351.3,222.3L352.0,238.7M353.0,265.5L353.6,279.3L354.1,294.3M355.1,321.2L355.8,340.7L356.1,350.0M357.1,376.9L357.3,383.3L358.1,404.9L358.1,405.7M359.0,432.5L359.6,448.2L360.0,461.3M361.0,488.2L361.1,491.7L361.9,513.5L362.0,517.0M362.9,543.9L363.4,556.7L363.9,572.7M364.9,599.5L365.6,619.4L366.0,628.3M367.0,655.2L367.1,659.1L367.9,678.3L368.1,684.0M369.2,710.8L369.4,715.2L370.2,732.7L370.5,739.6M371.7,766.5L372.4,780.9L373.2,795.3M374.7,822.1L374.7,822.5L375.5,834.7L376.2,846.1L376.6,850.9M378.7,877.7L379.2,882.9L380.0,889.9L380.7,896.0L381.5,901.2L382.3,905.5L382.4,906.2M390.8,897.1L391.3,893.3L392.1,887.4L392.8,880.9L393.6,873.8L394.1,868.5M396.4,841.7L396.6,838.9L397.4,828.9L398.1,818.7L398.5,812.9M400.4,786.1L401.1,776.1L401.9,765.0L402.4,757.4M404.1,730.5L404.2,730.2L404.9,718.2L405.7,706.1L405.9,701.8M407.6,674.9L407.9,670.2L408.7,658.3L409.4,646.5L409.5,646.2M411.3,619.4L411.7,612.8L412.5,602.4L413.2,592.4L413.4,590.6M415.5,563.8L416.2,555.7L417.0,547.2L417.8,539.1L418.1,535.1M421.2,508.4L421.5,505.6L422.3,500.5L423.0,495.9L423.8,491.7L424.6,488.0L425.3,484.9L426.1,482.4L426.8,480.5L427.0,480.3M436.0,500.5L436.6,505.2L437.4,510.8L438.1,516.9L438.9,523.2L439.6,529.1M442.2,555.9L442.7,560.6L443.4,569.3L444.2,578.2L444.7,584.6M446.9,611.4L447.2,615.4L448.0,625.3L448.7,635.4L449.1,640.1M451.0,666.9L451.7,677.4L452.5,688.1L453.0,695.7M454.9,722.5L455.5,730.6L456.3,741.0L457.0,751.2L457.0,751.2M459.1,778.0L459.3,780.9L460.1,790.6L460.8,800.1L461.4,806.7M463.6,833.6L463.8,835.7L464.6,843.8L465.3,851.7L466.1,859.3L466.4,862.2M469.5,888.9L469.9,891.5L470.6,896.8L471.4,901.7L472.1,906.3L472.9,910.5L473.7,914.2L474.4,917.3M484.9,911.2L485.0,910.9L485.7,906.8L486.5,902.1L487.2,897.0L488.0,891.5L488.8,885.7L489.1,882.7M492.1,856.0L492.5,851.0L493.3,842.8L494.0,834.2L494.6,827.3M496.8,800.5L497.1,797.3L497.8,787.2L498.6,776.8L498.9,771.8M500.8,744.9L500.8,744.2L501.6,733.0L502.4,721.6L502.7,716.2M504.4,689.4L504.6,686.6L505.4,674.8L506.1,663.0L506.3,660.6M508.0,633.8L508.4,627.6L509.2,616.1L509.9,605.0M511.6,578.2L512.2,569.9L512.9,558.4L513.5,549.5M515.4,522.6L516.0,515.5L516.7,505.3L517.5,495.3L517.6,493.9M519.7,467.1L519.7,466.6L520.5,457.7L521.2,449.0L522.0,440.9L522.2,438.4M525.1,411.7L525.8,406.0L526.5,400.0L527.3,394.5L528.0,389.6L528.8,385.3L529.2,383.2M539.8,375.2L540.1,376.2L540.9,379.2L541.6,382.7L542.4,386.6L543.1,391.1L543.9,395.8L544.7,400.9L545.0,403.5M548.3,430.2L548.4,431.4L549.2,438.6L549.9,446.0L550.7,453.6L551.2,458.8M553.7,485.6L554.5,493.7L555.2,501.8L556.0,510.2L556.3,514.3M558.6,541.1L559.0,546.1L559.8,555.2L560.5,564.2L561.0,569.8M563.3,596.6L563.5,599.6L564.3,608.0L565.0,616.2L565.8,624.2L565.9,625.3M568.6,652.0L568.8,653.7L569.6,660.5L570.3,667.2L571.1,673.5L571.8,679.6L572.0,680.6M576.0,707.2L576.4,709.0L577.1,712.6L577.9,715.7L578.6,718.4L579.4,720.7L580.2,722.4L580.9,723.6L581.7,724.3L582.4,724.6L583.2,724.5L583.9,724.2L584.7,723.5L585.4,722.4L586.2,720.8L587.0,718.7L587.7,716.4M593.1,690.1L593.8,685.3L594.5,679.7L595.3,673.9L596.0,667.8L596.8,661.5M599.7,634.8L599.8,634.1L600.5,627.0L601.3,619.8L602.1,612.5L602.7,606.1M605.4,579.4L605.8,575.0L606.6,567.4L607.3,559.9L608.1,552.6L608.3,550.7M611.3,524.0L611.9,518.6L612.6,512.1L613.4,505.6L614.1,499.4L614.7,495.4M618.6,468.8L618.7,468.6L619.4,464.6L620.2,461.3L620.9,458.5L621.7,456.1L622.5,454.0L623.2,452.2L624.0,450.6L624.7,449.2L625.5,448.2L626.2,447.7L627.0,447.7L627.7,448.4L628.5,449.6L629.3,451.4L630.0,453.5M635.3,479.9L636.1,485.2L636.8,491.1L637.6,497.6L638.3,504.3L638.8,508.5M641.5,535.2L642.1,541.9L642.8,550.6L643.6,559.7L643.9,563.9M646.1,590.7L646.6,597.4L647.4,607.0L648.1,616.7L648.3,619.4M650.3,646.3L650.4,647.0L651.2,657.4L651.9,667.7L652.5,675.0M654.4,701.8L654.9,708.8L655.7,719.2L656.4,729.3L656.5,730.5M658.6,757.4L658.7,758.3L659.5,767.5L660.2,776.5L661.0,785.4L661.0,786.1M663.5,812.8L664.0,817.8L664.8,825.1L665.5,832.1L666.3,838.9L666.6,841.5M670.2,868.1L670.8,871.4L671.6,875.3L672.3,878.8L673.1,882.0L673.8,884.7L674.6,886.9L675.3,888.5L676.1,889.4L676.8,889.8L677.6,889.7L678.4,889.3L679.1,888.5L679.9,887.5L680.6,886.0L680.8,885.4M686.3,859.2L686.7,857.1L687.4,852.0L688.2,846.5L688.9,840.7L689.7,834.4L690.1,830.6M692.9,803.9L693.5,797.7L694.2,789.6L695.0,781.3L695.5,775.2M697.8,748.4L698.0,746.7L698.7,737.7L699.5,728.5L700.2,719.7M702.5,692.9L702.5,692.2L703.3,683.0L704.0,673.9L704.8,664.8L704.8,664.2M707.1,637.4L707.8,629.6L708.6,621.2L709.3,613.0L709.7,608.7M712.3,581.9L712.3,581.3L713.1,574.0L713.9,567.1L714.6,560.7L715.4,554.5L715.5,553.3M719.3,526.7L719.9,523.3L720.7,519.3L721.4,515.4L722.2,511.9L722.9,508.8L723.7,506.1L724.4,503.9L725.2,502.2L725.9,500.9L726.7,499.9L727.3,499.4M737.4,521.9L738.0,525.0L738.8,529.4L739.5,534.2L740.3,539.1L741.0,544.2L741.8,549.3L742.0,550.4M745.8,577.0L746.3,580.8L747.1,586.4L747.8,592.3L748.6,598.3L749.4,604.4L749.5,605.6M752.9,632.2L753.1,633.6L753.9,639.2L754.6,644.8L755.4,650.5L756.2,656.1L756.8,660.8M761.3,687.3L761.4,688.2L762.2,692.0L762.9,695.7L763.7,699.1L764.5,702.2L765.2,705.0L766.0,707.6L766.7,709.9L767.5,711.8L768.2,713.4L769.0,714.5L769.2,714.8M780.4,696.6L781.1,693.3L781.8,689.4L782.6,685.2L783.3,680.7L784.1,676.2L784.9,671.6L785.4,668.2M789.0,641.6L789.4,638.6L790.1,632.3L790.9,625.9L791.7,619.5L792.4,613.0L792.4,613.0M795.5,586.2L796.2,580.1L796.9,573.3L797.7,566.7L798.5,560.2L798.8,557.6M802.0,530.9L802.2,529.2L803.0,522.9L803.7,516.7L804.5,510.6L805.2,504.9L805.6,502.4M809.9,475.8L810.5,471.9L811.3,467.6L812.0,463.6L812.8,460.2L813.6,457.3L814.3,454.8L815.1,452.8L815.8,451.0L816.6,449.3L817.3,448.1M828.5,465.7L828.7,466.5L829.4,470.3L830.2,474.2L830.9,478.2L831.7,482.6L832.4,487.4L833.2,492.5L833.4,494.1M837.0,520.7L837.7,527.1L838.5,533.9L839.2,540.8L840.0,547.9L840.2,549.3M843.0,576.1L843.0,576.5L843.8,583.9L844.5,591.4L845.3,599.0L845.9,604.7M848.6,631.5L849.1,635.9L849.8,642.9L850.6,649.8L851.3,656.8L851.7,660.1M854.5,686.9L855.1,692.2L855.9,698.4L856.6,704.2L857.4,709.7L858.1,715.3L858.2,715.5M862.0,742.1L862.7,746.2L863.4,750.3L864.2,754.0L864.9,757.4L865.7,760.4L866.4,763.2L867.2,765.9L867.9,768.6L868.4,770.1M881.3,764.9L881.5,764.1L882.3,761.0L883.1,757.7L883.8,754.4L884.6,751.0L885.3,747.6L886.1,744.0L886.8,740.1L887.4,736.8M891.7,710.2L892.1,707.5L892.9,702.8L893.6,698.2L894.4,693.6L895.1,688.8L895.9,683.8L896.2,681.8M900.0,655.1L900.4,652.6L901.2,647.6L901.9,642.7L902.7,637.9L903.4,633.5L904.2,629.3L904.7,626.7M910.0,600.3L910.2,599.1L911.0,595.8L911.8,592.9L912.5,590.5L913.3,588.7L914.0,587.3L914.8,586.1L915.5,584.8L916.3,583.3L917.0,581.7L917.8,580.2L918.6,579.1L919.3,578.3L920.1,578.0L920.2,578.0M930.8,600.7L931.4,603.4L932.1,606.9L932.9,610.6L933.7,614.3L934.4,617.8L935.2,621.4L935.9,625.3L936.6,628.9M941.2,655.5L941.2,655.6L942.0,660.3L942.7,664.8L943.5,668.9L944.2,672.8L945.0,676.8L945.7,680.9L946.3,683.8M950.9,710.3L951.0,710.8L951.8,714.1L952.5,716.9L953.3,719.5L954.1,722.3L954.8,725.4L955.6,728.4L956.3,731.3L957.1,733.8L957.8,735.8L958.6,737.3L959.0,737.9M973.3,727.9L973.7,726.4L974.4,722.8L975.2,719.0L976.0,715.5L976.7,712.2L977.5,708.9L978.2,705.2L979.0,700.8L979.2,699.7M983.1,673.0L983.5,670.6L984.3,666.0L985.0,661.2L985.8,656.2L986.5,650.9L987.3,645.1L987.4,644.6M990.6,617.9L991.1,614.2L991.8,608.5L992.6,603.0L993.3,597.4L994.1,591.5L994.4,589.3M997.6,562.6L997.9,561.0L998.6,555.7L999.4,550.5L1000.1,545.3L1000.9,540.3L1001.6,535.6L1001.9,534.1M1007.4,507.8L1007.7,506.5L1008.4,503.0L1009.2,499.9L1009.9,497.3L1010.7,495.2L1011.5,493.3L1012.2,491.6L1013.0,490.2L1013.7,489.0L1014.5,487.9L1015.2,487.0L1016.0,486.3L1016.7,485.6L1017.5,485.2L1018.3,485.1L1019.0,485.8L1019.8,487.1L1020.5,488.9L1021.3,490.8L1022.0,492.6L1022.8,494.0L1023.0,494.3M1030.1,520.1L1030.3,521.6L1031.1,526.0L1031.9,530.7L1032.6,535.4L1033.4,539.7L1034.1,543.6L1034.9,547.3L1035.1,548.4M1039.5,575.0L1040.2,579.7L1040.9,585.1L1041.7,590.6L1042.4,595.9L1043.2,600.7L1043.7,603.5M1048.5,629.9L1049.2,633.9L1050.0,638.2L1050.7,642.7L1051.5,647.2L1052.2,651.6L1053.0,655.7L1053.6,658.3M1059.2,684.6L1059.8,687.1L1060.6,689.8L1061.3,691.7L1062.1,693.0L1062.8,693.9L1063.6,694.7L1064.3,695.2L1065.1,695.8L1065.8,696.4L1066.6,696.9L1067.4,697.2L1068.1,697.4L1068.9,698.0L1069.6,698.5L1070.4,698.5L1071.1,697.7L1071.9,695.8L1072.6,693.4L1073.4,691.0L1074.2,689.0L1074.8,687.5M1083.2,662.1L1084.0,658.7L1084.7,655.4L1085.5,652.1L1086.2,648.8L1087.0,645.7L1087.8,642.8L1088.5,639.9L1089.3,637.0L1090.0,634.1M1096.0,609.1L1096.1,608.9L1096.8,606.3L1097.6,604.2L1098.3,602.7L1099.1,601.8L1099.8,601.2L1100.6,600.6L1101.3,599.9L1102.1,599.1L1102.9,598.5L1103.6,597.8L1104.4,597.2L1105.1,596.5L1105.9,595.8L1106.6,595.5L1107.4,595.7L1108.1,596.5L1108.9,597.6L1109.5,598.3M1119.2,596.9L1119.5,597.4L1120.2,599.0L1121.0,600.9L1121.7,603.1L1122.5,605.6L1123.3,608.3L1124.0,611.1L1124.8,614.2L1125.5,617.5L1126.3,620.9L1127.0,624.2L1127.1,624.5M1133.4,650.6L1133.8,653.4L1134.6,658.4L1135.3,662.6L1136.1,666.2L1136.8,669.9L1137.6,673.8L1138.4,677.9L1138.5,678.9M1144.5,705.1L1145.2,708.4L1145.9,712.1L1146.7,715.9L1147.4,719.5L1148.2,722.7L1148.9,725.4L1149.7,727.4L1150.4,728.9L1151.2,730.2L1152.0,731.8L1152.3,732.6M1167.2,737.6L1167.8,736.2L1168.6,734.3L1169.3,732.4L1170.1,730.0L1170.8,727.0L1171.6,723.7L1172.3,720.3L1173.1,716.7L1173.9,713.2L1174.6,709.9M1180.3,683.6L1180.7,681.4L1181.4,676.2L1182.2,670.9L1182.9,665.7L1183.7,661.0L1184.4,657.0L1184.8,655.2M1190.2,628.8L1190.5,627.7L1191.2,624.5L1192.0,620.9L1192.7,616.7L1193.5,612.1L1194.3,607.3L1195.0,602.6L1195.4,600.5M1202.5,574.6L1202.6,574.3L1203.3,571.3L1204.1,568.1L1204.8,565.0L1205.6,562.0L1206.3,559.5L1207.1,557.8L1207.9,557.0L1208.6,556.6L1209.4,556.3L1210.1,555.9L1210.9,555.2L1211.6,553.8L1212.4,552.1L1213.1,550.5L1213.9,549.3L1214.6,548.6L1215.4,548.4L1215.9,548.7M1227.5,572.7L1228.2,575.0L1229.0,577.9L1229.8,581.0L1230.5,584.1L1231.3,587.1L1232.0,589.5L1232.8,591.5L1233.5,593.2L1234.3,595.1L1235.0,597.4L1235.7,600.2M1241.2,626.6L1241.8,629.4L1242.6,631.8L1243.4,633.6L1244.1,635.1L1244.9,636.7L1245.6,638.6L1246.4,641.2L1247.1,644.2L1247.9,647.4L1248.6,650.3L1249.4,652.8L1249.8,654.0M1261.5,666.3L1262.2,665.6L1263.0,664.5L1263.7,663.4L1264.5,662.0L1265.3,660.7L1266.0,659.6L1266.8,658.5L1267.5,657.0L1268.3,655.0L1269.0,652.7L1269.8,650.4L1270.5,648.2L1271.3,646.0L1272.1,643.8L1272.8,641.7L1273.3,640.3M1281.2,614.6L1281.9,612.7L1282.6,610.7L1283.4,608.7L1284.1,606.2L1284.9,603.1L1285.7,599.7L1286.4,596.3L1287.2,593.1L1287.9,590.4L1288.7,587.9L1289.0,586.9M1297.0,573.4L1297.7,571.7L1298.5,570.3L1299.2,569.9L1300.0,570.6L1300.8,572.0L1301.5,573.4L1302.3,574.3L1303.0,574.2L1303.8,573.3L1304.5,572.0L1305.3,571.1L1306.0,570.8L1306.8,570.7L1307.6,570.4L1308.3,569.8L1309.1,569.2L1309.8,569.0L1310.6,569.2L1311.3,569.7L1312.1,570.3L1312.8,570.4L1313.6,570.2L1314.4,570.5L1315.1,571.9L1315.9,574.4L1316.6,577.6L1317.4,581.1L1317.6,582.1M1323.1,608.4L1323.4,609.9L1324.2,612.9L1324.9,615.5L1325.7,618.5L1326.4,622.2L1327.2,626.6L1328.0,630.8L1328.7,634.5L1329.2,636.5M1335.0,662.8L1335.5,665.1L1336.3,668.2L1337.0,671.0L1337.8,673.6L1338.5,676.1L1339.3,678.7L1340.0,681.4L1340.8,684.1L1341.5,686.8L1342.3,689.4L1342.7,690.5M1350.5,707.0L1350.6,707.2L1351.4,708.4L1352.1,709.3L1352.9,709.9L1353.6,710.4L1354.4,710.8L1355.1,711.2L1355.9,711.7L1356.7,712.3L1357.4,713.1L1358.2,713.7L1358.9,713.7L1359.7,712.8L1360.4,711.3L1361.2,709.3L1361.9,707.0L1362.7,705.0L1363.5,703.4L1364.2,702.5L1365.0,701.8L1365.0,701.7M1372.8,680.5L1373.3,679.5L1374.0,677.9L1374.8,675.8L1375.5,673.2L1376.3,670.2L1377.0,666.7L1377.8,663.1L1378.6,659.7L1379.3,656.8L1380.1,654.4L1380.6,652.9M1388.8,627.3L1389.1,626.3L1389.9,623.9L1390.6,621.7L1391.4,620.0L1392.2,618.3L1392.9,616.6L1393.7,615.0L1394.4,613.4L1395.2,611.6L1395.9,609.6L1396.7,607.4L1397.4,605.3L1398.2,603.2L1399.0,601.2L1399.4,600.5M1406.6,599.7L1407.3,599.6L1408.0,600.1L1408.8,600.9L1409.5,601.9L1410.3,602.8L1411.0,603.2L1411.8,603.1L1412.6,603.0L1413.3,603.4L1414.1,604.5L1414.8,605.9L1415.6,607.0L1416.3,607.7L1417.1,608.0L1417.8,608.1L1418.6,608.3L1419.3,609.0L1420.1,610.1L1420.9,611.6L1421.6,613.5L1422.4,615.4L1423.1,617.5L1423.9,619.7L1424.0,619.8M1435.1,644.3L1435.2,644.6L1436.0,646.1L1436.7,647.6L1437.5,649.1L1438.2,650.5L1439.0,651.9L1439.7,653.2L1440.5,654.3L1441.3,655.0L1442.0,655.6L1442.8,656.3L1443.5,656.9L1444.3,657.4L1445.0,657.8L1445.8,658.2L1446.5,658.9L1447.3,659.9L1448.1,661.0L1448.8,661.9L1449.6,662.6L1450.3,663.4L1451.1,664.3L1451.8,664.8L1452.1,664.8M1460.5,655.4L1460.9,654.7L1461.6,653.6L1462.4,652.2L1463.2,650.8L1463.9,649.3L1464.7,647.9L1465.4,646.4L1466.2,644.9L1466.9,642.9L1467.7,640.4L1468.4,637.6L1469.2,634.7L1470.0,632.0L1470.7,629.7L1471.1,628.8M1480.0,603.6L1480.5,602.8L1481.3,601.3L1482.0,599.5L1482.8,597.3L1483.6,594.5L1484.3,591.4L1485.1,588.3L1485.8,585.7L1486.6,583.7L1487.3,582.4L1488.1,581.6L1488.8,581.2L1489.6,581.0L1490.4,580.6L1491.1,579.8L1491.9,578.6L1491.9,578.5M1500.8,571.4L1500.9,571.3L1501.7,571.0L1502.4,571.2L1503.2,571.8L1503.9,572.9L1504.7,574.5L1505.5,576.4L1506.2,578.3L1507.0,579.6L1507.7,580.3L1508.5,580.6L1509.2,580.7L1510.0,580.9L1510.7,581.7L1511.5,583.0L1512.3,584.4L1513.0,586.1L1513.8,588.0L1514.5,590.4L1515.3,592.8L1515.6,593.6M1523.3,619.4L1523.6,620.4L1524.3,622.6L1525.1,624.1L1525.9,625.0L1526.6,625.7L1527.4,626.6L1528.1,628.0L1528.9,629.9L1529.6,632.2L1530.4,634.5L1531.1,636.5L1531.9,638.5L1532.7,640.8L1533.4,643.4L1534.0,645.8M1544.4,670.2L1544.7,671.0L1545.5,672.5L1546.2,674.0L1547.0,675.7L1547.8,677.5L1548.5,679.2L1549.3,680.7L1550.0,681.8L1550.8,682.2L1551.5,681.8L1552.3,681.2L1553.0,680.5L1553.8,680.1L1554.6,680.0L1555.3,680.1L1556.1,680.2L1556.8,679.7L1557.6,678.5L1558.3,677.2L1559.1,676.1L1559.5,675.8M1574.2,650.1L1574.2,650.0L1575.0,648.7L1575.7,646.9L1576.5,644.8L1577.2,642.6L1578.0,640.5L1578.7,638.6L1579.5,637.1L1580.2,636.2L1581.0,635.7L1581.7,635.0L1582.5,634.1L1583.3,632.8L1584.0,631.4L1584.8,630.2L1585.5,629.5L1586.3,628.8L1587.0,627.9L1587.8,626.6L1588.3,625.5M1596.5,615.5L1596.9,615.5L1597.6,615.3L1598.4,614.7L1599.1,613.9L1599.9,613.5L1600.6,613.5L1601.4,614.1L1602.1,615.0L1602.9,615.7L1603.7,616.2L1604.4,616.6L1605.2,617.0L1605.9,617.9L1606.7,618.8L1607.4,619.5L1608.2,620.2L1608.9,620.9L1609.7,621.5L1610.5,622.1L1611.2,622.7L1612.0,623.5L1612.7,624.7L1613.0,625.1M1623.3,643.4L1623.3,643.5L1624.0,645.2L1624.8,646.4L1625.6,646.8L1626.3,647.2L1627.1,647.8L1627.8,649.0L1628.6,650.7L1629.3,652.3L1630.1,653.6L1630.8,654.3L1631.6,654.4L1632.4,654.5L1633.1,655.2L1633.9,656.6L1634.6,658.7L1635.4,661.1L1636.1,663.3L1636.9,665.2L1637.6,666.5L1637.9,666.8M1648.4,674.0L1649.0,673.0L1649.7,671.5L1650.5,670.6L1651.2,670.4L1652.0,670.6L1652.8,670.4L1653.5,669.5L1654.3,667.9L1655.0,665.9L1655.8,664.2L1656.5,662.6L1657.3,661.1L1658.0,659.5L1658.8,657.4L1659.6,654.8L1660.3,652.1L1661.0,649.6M1669.7,624.2L1670.1,622.9L1670.9,621.0L1671.6,619.3L1672.4,617.6L1673.1,616.0L1673.9,614.3L1674.7,612.5L1675.4,611.0L1676.2,609.9L1676.9,609.3L1677.7,609.0L1678.4,608.7L1679.2,607.9L1679.9,606.6L1680.7,605.0" fill="none" stroke="#0000ff" stroke-width="10" stroke-linejoin="round" stroke-linecap="butt" shape-rendering="crispEdges"/>
<text class="tick" x="147.5" y="58.4" text-anchor="end">6</text>
<text class="tick" x="147.5" y="256.0" text-anchor="end">4</text>
<text class="tick" x="147.5" y="453.6" text-anchor="end">2</text>
<text class="tick" x="147.5" y="651.2" text-anchor="end">0</text>
<text class="tick" x="147.5" y="848.9" text-anchor="end">–2</text>
<text class="tick" x="147.5" y="1046.5" text-anchor="end">–4</text>
<text class="tick" x="147.5" y="1244.1" text-anchor="end">–6</text>
<text class="tick" x="169.0" y="1298.2" text-anchor="middle">0</text>
<text class="tick" x="547.7" y="1298.2" text-anchor="middle">5</text>
<text class="tick" x="925.4" y="1298.2" text-anchor="middle">10</text>
<text class="tick" x="1303.0" y="1298.2" text-anchor="middle">15</text>
<text class="tick" x="1680.7" y="1298.2" text-anchor="middle">20</text>
<text class="lab" x="932.4" y="1378.0" text-anchor="middle">Time(s)</text>
<text class="lab" transform="translate(66,624.0) rotate(-90)" text-anchor="middle">Amplitude</text>
<rect x="862.5" y="77.5" width="780" height="132" fill="#fff" stroke="#202020" stroke-width="3" shape-rendering="crispEdges"/>
<path d="M875,113H1016" fill="none" stroke="#ff0000" stroke-width="6" shape-rendering="crispEdges"/>
<path d="M875,174H904M932,174H960M987,174H1016" fill="none" stroke="#0000ff" stroke-width="10" shape-rendering="crispEdges"/>
<text class="leg" x="1026.3" y="131.8">Original signal with noise</text>
<text class="leg" x="1026.3" y="192.5">Synthesized signal with EMD</text>
</svg>
</body></html>
